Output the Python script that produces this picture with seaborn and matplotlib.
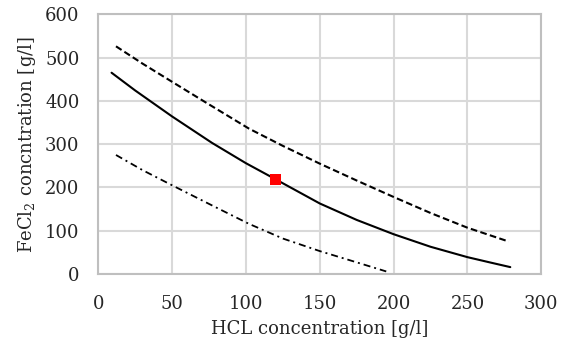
import numpy as np
import pandas as pd
import seaborn as sns
import matplotlib.pyplot as plt

# curves
hcl_solid = [9, 25, 50, 77, 100, 120, 150, 175, 200, 225, 250, 265, 279]
fecl_solid = [465, 424, 364, 303, 256, 219, 163, 125, 92, 63, 39, 27, 16]

hcl_dashed = [12, 30, 50, 72, 102, 125, 150, 175, 200, 225, 250, 278]
fecl_dashed = [526, 486, 444, 398, 336, 296, 255, 216, 178, 141, 107, 75]

hcl_dashdot = [12, 30, 50, 75, 102, 125, 150, 175, 195]
fecl_dashdot = [275, 240, 205, 162, 116, 82, 53, 27, 6]

point_x = [120]
point_y = [219]

sns.set_theme(style="whitegrid")
plt.rcParams['font.family'] = ['DejaVu Serif']
plt.rcParams['mathtext.fontset'] = 'dejavuserif'

fig, ax = plt.subplots(figsize=(5.68, 3.4), dpi=100)

sns.lineplot(x=hcl_solid, y=fecl_solid, color='black', lw=1.5, ax=ax)
sns.lineplot(x=hcl_dashed, y=fecl_dashed, color='black', lw=1.5, ax=ax)
sns.lineplot(x=hcl_dashdot, y=fecl_dashdot, color='black', lw=1.3, ax=ax)
ax.lines[1].set_dashes([3.2, 1.6])
ax.lines[2].set_dashes([3.9, 2.2, 1.1, 2.2])

sns.scatterplot(x=point_x, y=point_y, marker='s', s=60, color='#ff0000',
                edgecolor='none', ax=ax, zorder=5)

ax.set_xlim(0, 300)
ax.set_ylim(0, 600)
ax.set_xticks(range(0, 301, 50))
ax.set_yticks(range(0, 601, 100))
ax.grid(True, color='#d9d9d9', lw=1.5)
for s in ax.spines.values():
    s.set_color('#bfbfbf')
    s.set_linewidth(1.5)

ax.tick_params(labelsize=13, length=0)
ax.tick_params(axis='y', pad=13.5)
ax.tick_params(axis='x', pad=15)
ax.set_xlabel('HCL concentration [g/l]', fontsize=13, labelpad=5)
ax.set_ylabel('FeCl$_\\mathregular{2}$ concntration [g/l]', fontsize=13, labelpad=5)

plt.subplots_adjust(left=0.173, right=0.953, top=0.958, bottom=0.194)
plt.savefig('out.png', dpi=100)
